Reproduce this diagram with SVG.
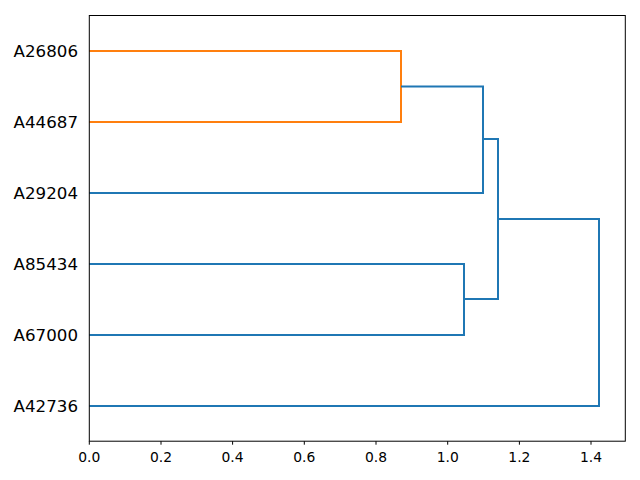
<svg xmlns="http://www.w3.org/2000/svg" width="640" height="480" viewBox="0 0 640 480">
<style>
.l{fill:none;stroke-width:2;stroke-linecap:butt;stroke-linejoin:miter}
.o{stroke:#ff7f0e}
.b{stroke:#1f77b4}
.yl{font-family:"DejaVu Sans",sans-serif;font-size:16.67px;text-anchor:end;fill:#000}
.xl{font-family:"DejaVu Sans",sans-serif;font-size:13.89px;text-anchor:middle;fill:#000}
.tk{stroke:#000;stroke-width:1}
</style>
<rect width="640" height="480" fill="#fff"/>
<g id="connectors">
<polyline class="l o" points="89.3,51 401,51 401,122 89.3,122"/>
<polyline class="l b" points="401,86.5 483,86.5 483,193 89.3,193"/>
<polyline class="l b" points="89.3,264 464,264 464,335 89.3,335"/>
<polyline class="l b" points="483,139 498,139 498,299 464,299"/>
<polyline class="l b" points="498,219 599,219 599,406 89.3,406"/>
</g>
<g id="axes">
<rect x="89.3" y="15.5" width="536" height="425.7" fill="none" stroke="#000" stroke-width="1"/>
<g class="tk">
<line x1="89.3" y1="441.2" x2="89.3" y2="444.7"/>
<line x1="161" y1="441.2" x2="161" y2="444.7"/>
<line x1="232.6" y1="441.2" x2="232.6" y2="444.7"/>
<line x1="304.3" y1="441.2" x2="304.3" y2="444.7"/>
<line x1="376" y1="441.2" x2="376" y2="444.7"/>
<line x1="447.7" y1="441.2" x2="447.7" y2="444.7"/>
<line x1="519.4" y1="441.2" x2="519.4" y2="444.7"/>
<line x1="591" y1="441.2" x2="591" y2="444.7"/>
</g>
<text class="xl" x="89.3" y="461.7">0.0</text>
<text class="xl" x="161" y="461.7">0.2</text>
<text class="xl" x="232.6" y="461.7">0.4</text>
<text class="xl" x="304.3" y="461.7">0.6</text>
<text class="xl" x="376" y="461.7">0.8</text>
<text class="xl" x="447.7" y="461.7">1.0</text>
<text class="xl" x="519.4" y="461.7">1.2</text>
<text class="xl" x="591" y="461.7">1.4</text>
</g>
<g id="A26806"><text class="yl" x="78" y="57.2">A26806</text></g>
<g id="A44687"><text class="yl" x="78" y="128.2">A44687</text></g>
<g id="A29204"><text class="yl" x="78" y="199.2">A29204</text></g>
<g id="A85434"><text class="yl" x="78" y="270.2">A85434</text></g>
<g id="A67000"><text class="yl" x="78" y="341.2">A67000</text></g>
<g id="A42736"><text class="yl" x="78" y="412.2">A42736</text></g>
</svg>
